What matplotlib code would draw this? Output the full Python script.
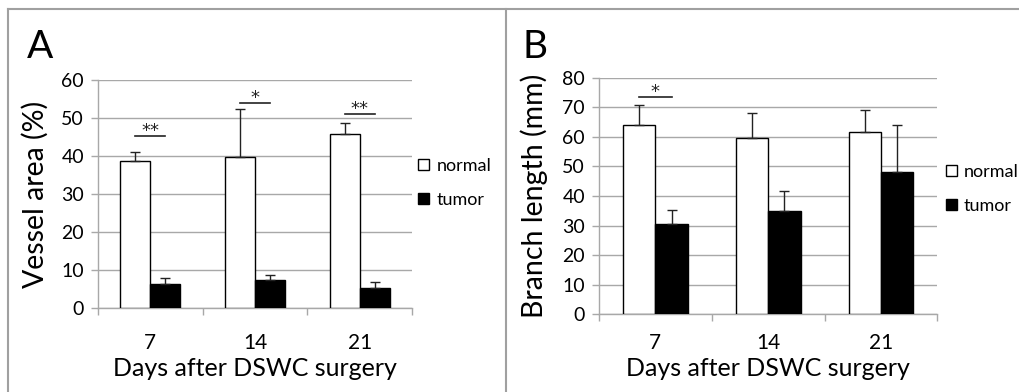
import matplotlib
matplotlib.use("Agg")
import matplotlib.pyplot as plt
from matplotlib.patches import Patch
from matplotlib.lines import Line2D
import numpy as np

plt.rcParams['font.family'] = ['Lato', 'DejaVu Sans']

days = ["7", "14", "21"]
series = ["normal", "tumor"]

# Panel A: Vessel area (%)
vessel_normal = [38.8, 39.9, 46.0]
vessel_normal_err = [2.4, 12.5, 2.7]
vessel_tumor = [6.5, 7.4, 5.4]
vessel_tumor_err = [1.5, 1.4, 1.5]
vessel_sig = ["**", "*", "**"]
vessel_sig_y = [45.4, 54.1, 51.1]

# Panel B: Branch length (mm)
branch_normal = [64.0, 59.6, 61.6]
branch_normal_err = [6.7, 8.4, 7.5]
branch_tumor = [30.5, 34.9, 48.2]
branch_tumor_err = [4.7, 6.8, 15.7]
branch_sig = ["*", "", ""]
branch_sig_y = [73.4, None, None]

GRID = "#a8a8a8"
W = 0.287

fig = plt.figure(figsize=(10.19, 3.92), dpi=100)

# frame lines (gray)
fig.add_artist(Line2D([8/1019, 1], [1-9/392, 1-9/392], color="#a0a0a0", lw=1.5, transform=fig.transFigure))
fig.add_artist(Line2D([8/1019, 8/1019], [0, 1-9/392], color="#a0a0a0", lw=1.5, transform=fig.transFigure))
fig.add_artist(Line2D([506/1019, 506/1019], [0, 1-9/392], color="#a0a0a0", lw=1.5, transform=fig.transFigure))


def panel(rect, normal, nerr, tumor, terr, sig, sigy, ymax, ylabel, letter, letter_xy, ylab_x,
          leg_anchor, xpad):
    ax = fig.add_axes(rect)
    x = np.arange(len(days))
    ax.bar(x - W/2, normal, W, color="white", edgecolor="black", linewidth=1.0, zorder=3, label=series[0])
    ax.bar(x + W/2, tumor, W, color="black", edgecolor="black", linewidth=1.0, zorder=3, label=series[1])
    ax.errorbar(x - W/2, normal, yerr=[np.zeros(3), nerr], fmt="none", ecolor="#222222",
                elinewidth=1.0, capsize=3.5, capthick=1.0, zorder=4)
    ax.errorbar(x + W/2, tumor, yerr=[np.zeros(3), terr], fmt="none", ecolor="#222222",
                elinewidth=1.0, capsize=3.5, capthick=1.0, zorder=4)
    for i, (s, yy) in enumerate(zip(sig, sigy)):
        if s:
            ax.plot([i - W/2, i + W/2], [yy, yy], color="#222222", lw=1.2, zorder=4)
            ax.annotate(s, (i, yy), xytext=(0, 0), textcoords="offset points",
                        ha="center", va="baseline", fontsize=13, color="#222222",
                        family="DejaVu Sans")
    ax.set_xlim(-0.5, len(days) - 0.5)
    ax.set_ylim(0, ymax)
    ax.set_yticks(np.arange(0, ymax + 1, 10))
    ax.yaxis.grid(True, color=GRID, lw=1.0, zorder=0)
    ax.set_axisbelow(True)
    ax.set_xticks(x)
    ax.set_xticklabels(days)
    ax.set_xticks(np.arange(-0.5, len(days)), minor=True)
    ax.tick_params(axis="x", which="major", length=0, pad=xpad, labelsize=15)
    ax.tick_params(axis="x", which="minor", length=5, color=GRID, width=1.0, direction="out")
    ax.tick_params(axis="y", length=5, color=GRID, width=1.0, pad=5, labelsize=14)
    for sp in ["top", "right"]:
        ax.spines[sp].set_visible(False)
    for sp in ["left", "bottom"]:
        ax.spines[sp].set_color(GRID)
        ax.spines[sp].set_linewidth(1.0)
    ax.set_xlabel("Days after DSWC surgery", fontsize=18, labelpad=3)
    ax.set_ylabel(ylabel, fontsize=20.5)
    ax.yaxis.set_label_coords(ylab_x, 0.5)
    handles = [Patch(facecolor="white", edgecolor="black", linewidth=1.0, label=series[0]),
               Patch(facecolor="black", edgecolor="black", linewidth=1.0, label=series[1])]
    ax.legend(handles=handles, loc="center left", bbox_to_anchor=leg_anchor, frameon=False,
              fontsize=13, handlelength=0.6, handleheight=0.6, handletextpad=0.4,
              labelspacing=1.0, borderaxespad=0, borderpad=0)
    fig.text(letter_xy[0], letter_xy[1], letter, fontsize=28, ha="left", va="top")
    return ax

panel([98/1019, 1-308.3/392, 314/1019, 228/392], vessel_normal, vessel_normal_err, vessel_tumor,
      vessel_tumor_err, vessel_sig, vessel_sig_y, 60, "Vessel area (%)", "A", (27/1019, 1-29/392),
      -0.158, (1.02, 0.55), 18)
panel([599/1019, 1-314.3/392, 338.3/1019, 236.6/392], branch_normal, branch_normal_err, branch_tumor,
      branch_tumor_err, branch_sig, branch_sig_y, 80, "Branch length (mm)", "B", (523/1019, 1-29/392),
      -0.152, (1.025, 0.53), 13.5)

fig.savefig("out.png", dpi=100, facecolor="white")
